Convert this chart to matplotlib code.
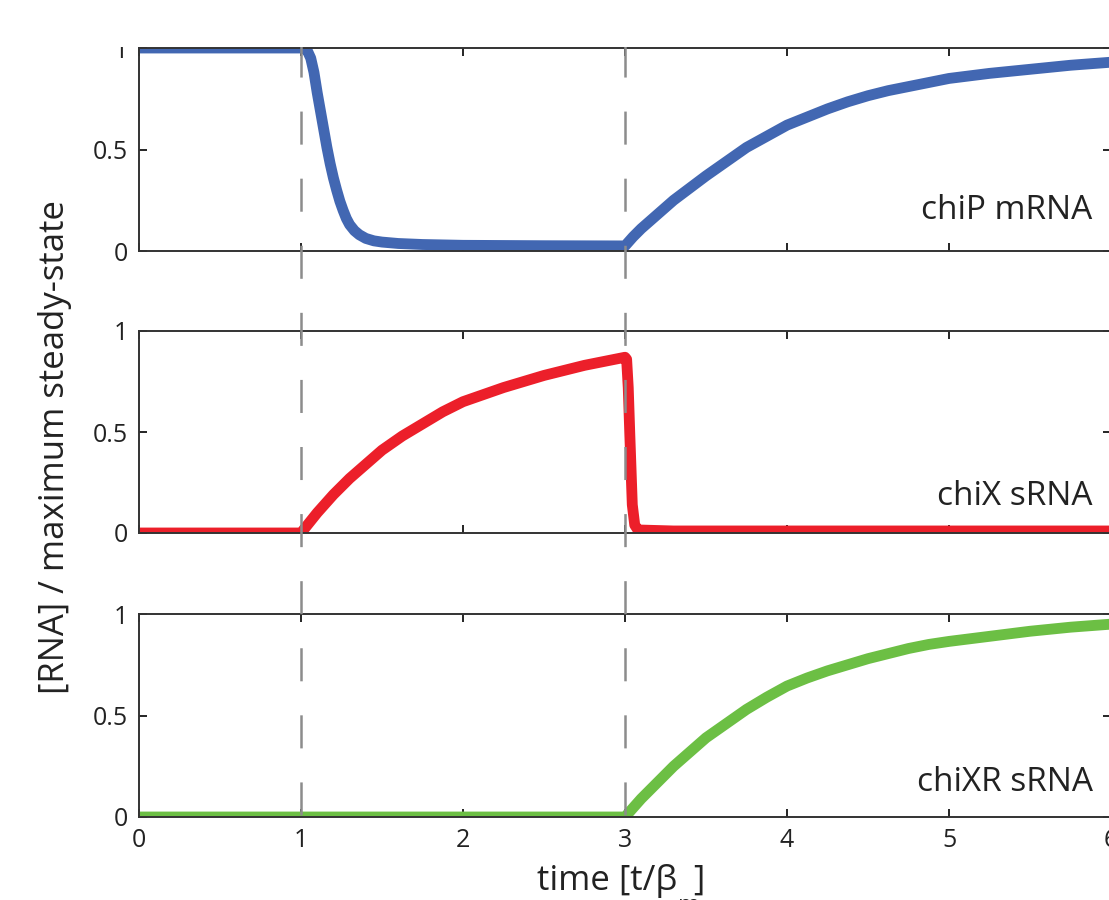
import matplotlib
matplotlib.use("Agg")
import matplotlib.pyplot as plt
from matplotlib.lines import Line2D
from matplotlib.patches import Rectangle
from matplotlib.transforms import blended_transform_factory

plt.rcParams["font.family"] = ["Open Sans", "DejaVu Sans"]

# RNA levels (normalised to max steady state)
chip_t = [0.0, 1.0, 1.02, 1.04, 1.06, 1.08, 1.10, 1.12, 1.14, 1.16, 1.18, 1.20, 1.22, 1.24, 1.26,
          1.28, 1.30, 1.33, 1.36, 1.40, 1.45, 1.5, 1.6, 1.75, 2.0, 2.5,
          3.0, 3.05, 3.1, 3.2, 3.3, 3.4, 3.5, 3.625, 3.75, 3.875, 4.0, 4.125, 4.25, 4.375,
          4.5, 4.625, 4.75, 4.875, 5.0, 5.25, 5.5, 5.75, 6.0]
chip_v = [1.0, 1.0, 0.998, 0.985, 0.95, 0.88, 0.78, 0.69, 0.60, 0.51, 0.43, 0.36, 0.30, 0.245, 0.20,
          0.16, 0.13, 0.10, 0.08, 0.062, 0.05, 0.044, 0.037, 0.032, 0.028, 0.026,
          0.025, 0.07, 0.11, 0.18, 0.25, 0.31, 0.37, 0.44, 0.51, 0.565, 0.62, 0.66, 0.70, 0.735,
          0.765, 0.79, 0.81, 0.83, 0.85, 0.875, 0.895, 0.915, 0.93]

chix_t = [0.0, 1.0, 1.05, 1.1, 1.2, 1.3, 1.4, 1.5, 1.625, 1.75, 1.875, 2.0, 2.125, 2.25, 2.375,
          2.5, 2.625, 2.75, 2.875, 2.95, 3.0, 3.01, 3.02, 3.03, 3.045, 3.06, 3.08, 3.3, 6.0]
chix_v = [0.0, 0.0, 0.05, 0.10, 0.19, 0.27, 0.34, 0.41, 0.48, 0.54, 0.60, 0.65, 0.685, 0.72, 0.75,
          0.78, 0.805, 0.83, 0.85, 0.862, 0.87, 0.86, 0.72, 0.48, 0.14, 0.04, 0.015, 0.01, 0.01]

chixr_t = [0.0, 3.0, 3.05, 3.1, 3.2, 3.3, 3.4, 3.5, 3.625, 3.75, 3.875, 4.0, 4.125, 4.25, 4.375,
           4.5, 4.625, 4.75, 4.875, 5.0, 5.25, 5.5, 5.75, 6.0]
chixr_v = [0.0, 0.0, 0.045, 0.09, 0.17, 0.25, 0.32, 0.39, 0.46, 0.53, 0.59, 0.645, 0.685, 0.72, 0.75,
           0.78, 0.805, 0.83, 0.85, 0.865, 0.89, 0.915, 0.935, 0.95]

panel_labels = ["chiP mRNA", "chiX sRNA", "chiXR sRNA"]
colors       = ["#4267B2", "#EC1F2A", "#6CBF44"]
event_times  = [1, 3]
x_ticks      = [0, 1, 2, 3, 4, 5, 6]
y_ticks      = [0, 0.5, 1]
y_ticklabels = ["0", "0.5", "1"]

W, H = 1109, 900
fig = plt.figure(figsize=(W / 100, H / 100), dpi=100)

left, width = 139 / W, 972 / W
panels = [(251, 203), (533, 202), (817, 203)]    # (bottom px, height px)
label_y = [0.158, 0.139, 0.13]
series = [(chip_t, chip_v), (chix_t, chix_v), (chixr_t, chixr_v)]

axes = []
for i, ((bot, h), (t, v)) in enumerate(zip(panels, series)):
    ax = fig.add_axes([left, 1 - bot / H, width, h / H])
    ax.plot(t, v, color=colors[i], lw=7.8, solid_joinstyle="round", solid_capstyle="butt")
    ax.set_xlim(0, 6)
    ax.set_ylim(0, 1)
    ax.set_xticks(x_ticks)
    ax.set_yticks(y_ticks)
    ax.set_yticklabels(y_ticklabels)
    ax.tick_params(direction="in", top=True, right=True, length=6, width=1.2,
                   labelsize=18, labelcolor="#222222", pad=8)
    if i < 2:
        ax.tick_params(labelbottom=False)
    for sp in ax.spines.values():
        sp.set_color("#333333")
        sp.set_linewidth(1.4)
    ax.text(0.981, label_y[i], panel_labels[i], transform=ax.transAxes,
            ha="right", va="baseline", fontsize=24, color="#222222")
    axes.append(ax)

# dashed event markers spanning all three panels
blend = blended_transform_factory(axes[2].transData, fig.transFigure)
lw_dash = 1.8
for te in event_times:
    fig.add_artist(Line2D([te, te], [1 - 44 / H, 1 - 817 / H], transform=blend,
                          color="#8c8c8c", lw=lw_dash,
                          dashes=(23.8 / lw_dash, 24.5 / lw_dash), zorder=5))

# the reference is cropped just above the top panel
fig.add_artist(Rectangle((0, 1 - 47 / H), 1, 47 / H, transform=fig.transFigure,
                         facecolor="white", edgecolor="none", zorder=10))

fig.text(0.05, 0.503, "[RNA] / maximum steady-state", rotation=90,
         ha="center", va="center", fontsize=25, color="#222222")

# x label: the subscript sits below the cropped bottom edge
fig.text(677 / W, 1 - 890 / H, "time [t/β", ha="right", va="baseline",
         fontsize=25, color="#222222")
fig.text(678 / W, 1 - 912 / H, "m", ha="left", va="baseline",
         fontsize=17, color="#222222")
fig.text(693 / W, 1 - 890 / H, "]", ha="left", va="baseline",
         fontsize=25, color="#222222")

fig.savefig("out.png", dpi=100)
